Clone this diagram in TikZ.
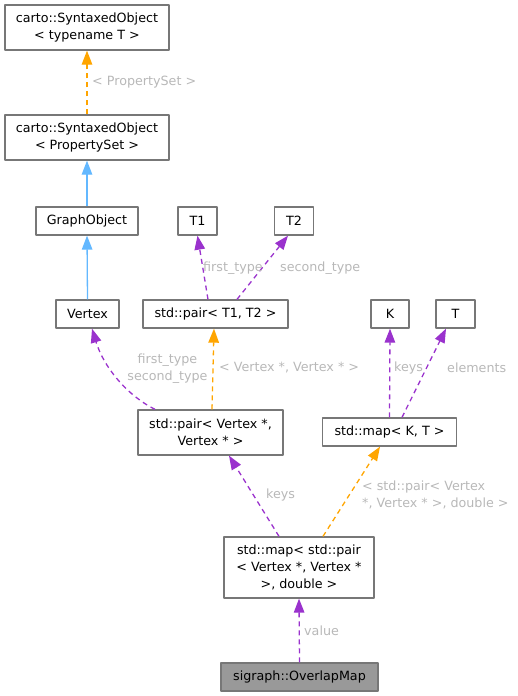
\documentclass[tikz,border=0pt]{standalone}
\usepackage{fontspec}
\setmainfont{DejaVu Sans}
\usetikzlibrary{arrows.meta}
\definecolor{boxgray}{HTML}{777777}
\definecolor{mainfill}{HTML}{999999}
\definecolor{usepurple}{HTML}{9A32CD}
\definecolor{tmplorange}{HTML}{FFA500}
\definecolor{inhblue}{HTML}{63B8FF}
\definecolor{lblgray}{HTML}{B8B8B8}
\begin{document}
\begin{tikzpicture}[x=1pt, y=-1pt, font=\fontsize{12.7}{17}\selectfont, line join=round, >={Triangle[length=14pt,width=10.5pt]}]
	\tikzset{cls/.style={draw=boxgray, fill=white, line width=1.3pt, align=center, inner sep=0pt, minimum height=28},
		uses/.style={->, usepurple, line width=1.3pt, dash pattern=on 5pt off 4pt},
		tmpl/.style={->, tmplorange, line width=1.3pt, dash pattern=on 5pt off 4pt},
		inh/.style={->, inhblue, line width=1.3pt},
		lbl/.style={text=lblgray, inner sep=0pt, align=left}}
	\useasboundingbox (0,0) rectangle (518,696);
	% Klassen
	\node[cls, minimum width=164, minimum height=45] (sotmpl) at (87,27.5) {carto::SyntaxedObject\\< typename T >};
	\node[cls, minimum width=164, minimum height=45] (soprop) at (87,137.5) {carto::SyntaxedObject\\< PropertySet >};
	\node[cls, minimum width=102] (graphobj) at (87,221) {GraphObject};
	\node[cls, minimum width=39] (tone) at (197.5,221) {T1};
	\node[cls, minimum width=39] (ttwo) at (294,221) {T2};
	\node[cls, minimum width=63] (vertex) at (87.5,314) {Vertex};
	\node[cls, minimum width=145] (pairtmpl) at (215.5,314) {std::pair< T1, T2 >};
	\node[cls, minimum width=38] (kay) at (390,314) {K};
	\node[cls, minimum width=39] (tee) at (455.5,314) {T};
	\node[cls, minimum width=145, minimum height=45] (pairvtx) at (210.5,432.5) {std::pair< Vertex *,\\Vertex * >};
	\node[cls, minimum width=134] (maptmpl) at (389.5,432) {std::map< K, T >};
	\node[cls, minimum width=150, minimum height=61] (mappair) at (299,567.5) {std::map< std::pair\\< Vertex *, Vertex *\\>, double >};
	\node[cls, fill=mainfill, minimum width=157] (overlap) at (299.5,677) {sigraph::OverlapMap};
	% Kanten
	\draw[tmpl] (soprop.north) -- (sotmpl.south);
	\draw[inh] (graphobj.north) -- (soprop.south);
	\draw[inh] (vertex.north) -- (graphobj.south);
	\draw[uses] ([xshift=-7.5]pairtmpl.north) -- (tone.south);
	\draw[uses] ([xshift=21.5]pairtmpl.north) -- ([xshift=-6]ttwo.south);
	\draw[uses] ([xshift=-55.5]pairvtx.north) .. controls (128,396) and (104,368) .. ([xshift=4.5]vertex.south);
	\draw[tmpl] ([xshift=1.5]pairvtx.north) -- ([xshift=-1.5]pairtmpl.south);
	\draw[uses] (maptmpl.north) -- (kay.south);
	\draw[uses] ([xshift=12.5]maptmpl.north) -- ([xshift=-9.5]tee.south);
	\draw[uses] ([xshift=-20]mappair.north) -- ([xshift=18.5]pairvtx.south);
	\draw[tmpl] ([xshift=24]mappair.north) -- ([xshift=-9.5]maptmpl.south);
	\draw[uses] (overlap.north) -- (mappair.south);
	% Beschriftungen
	\node[lbl, anchor=west] (lblprop) at (92,82) {< PropertySet >};
	\node[lbl, anchor=west] (lblfirst) at (203,268) {first\_type};
	\node[lbl, anchor=west] (lblsecond) at (280,268) {second\_type};
	\node[lbl, align=center] (lblboth) at (167.5,369) {first\_type\\second\_type};
	\node[lbl, anchor=west] (lblvtx) at (219,368) {< Vertex *, Vertex * >};
	\node[lbl, anchor=west] (lblkeys) at (394,368) {keys};
	\node[lbl, anchor=west] (lblelem) at (447,368) {elements};
	\node[lbl, anchor=west] (lblkeystwo) at (266,495) {keys};
	\node[lbl, anchor=west] (lblpair) at (362,495) {< std::pair< Vertex\\*, Vertex * >, double >};
	\node[lbl, anchor=west] (lblvalue) at (304,631) {value};
\end{tikzpicture}
\end{document}
